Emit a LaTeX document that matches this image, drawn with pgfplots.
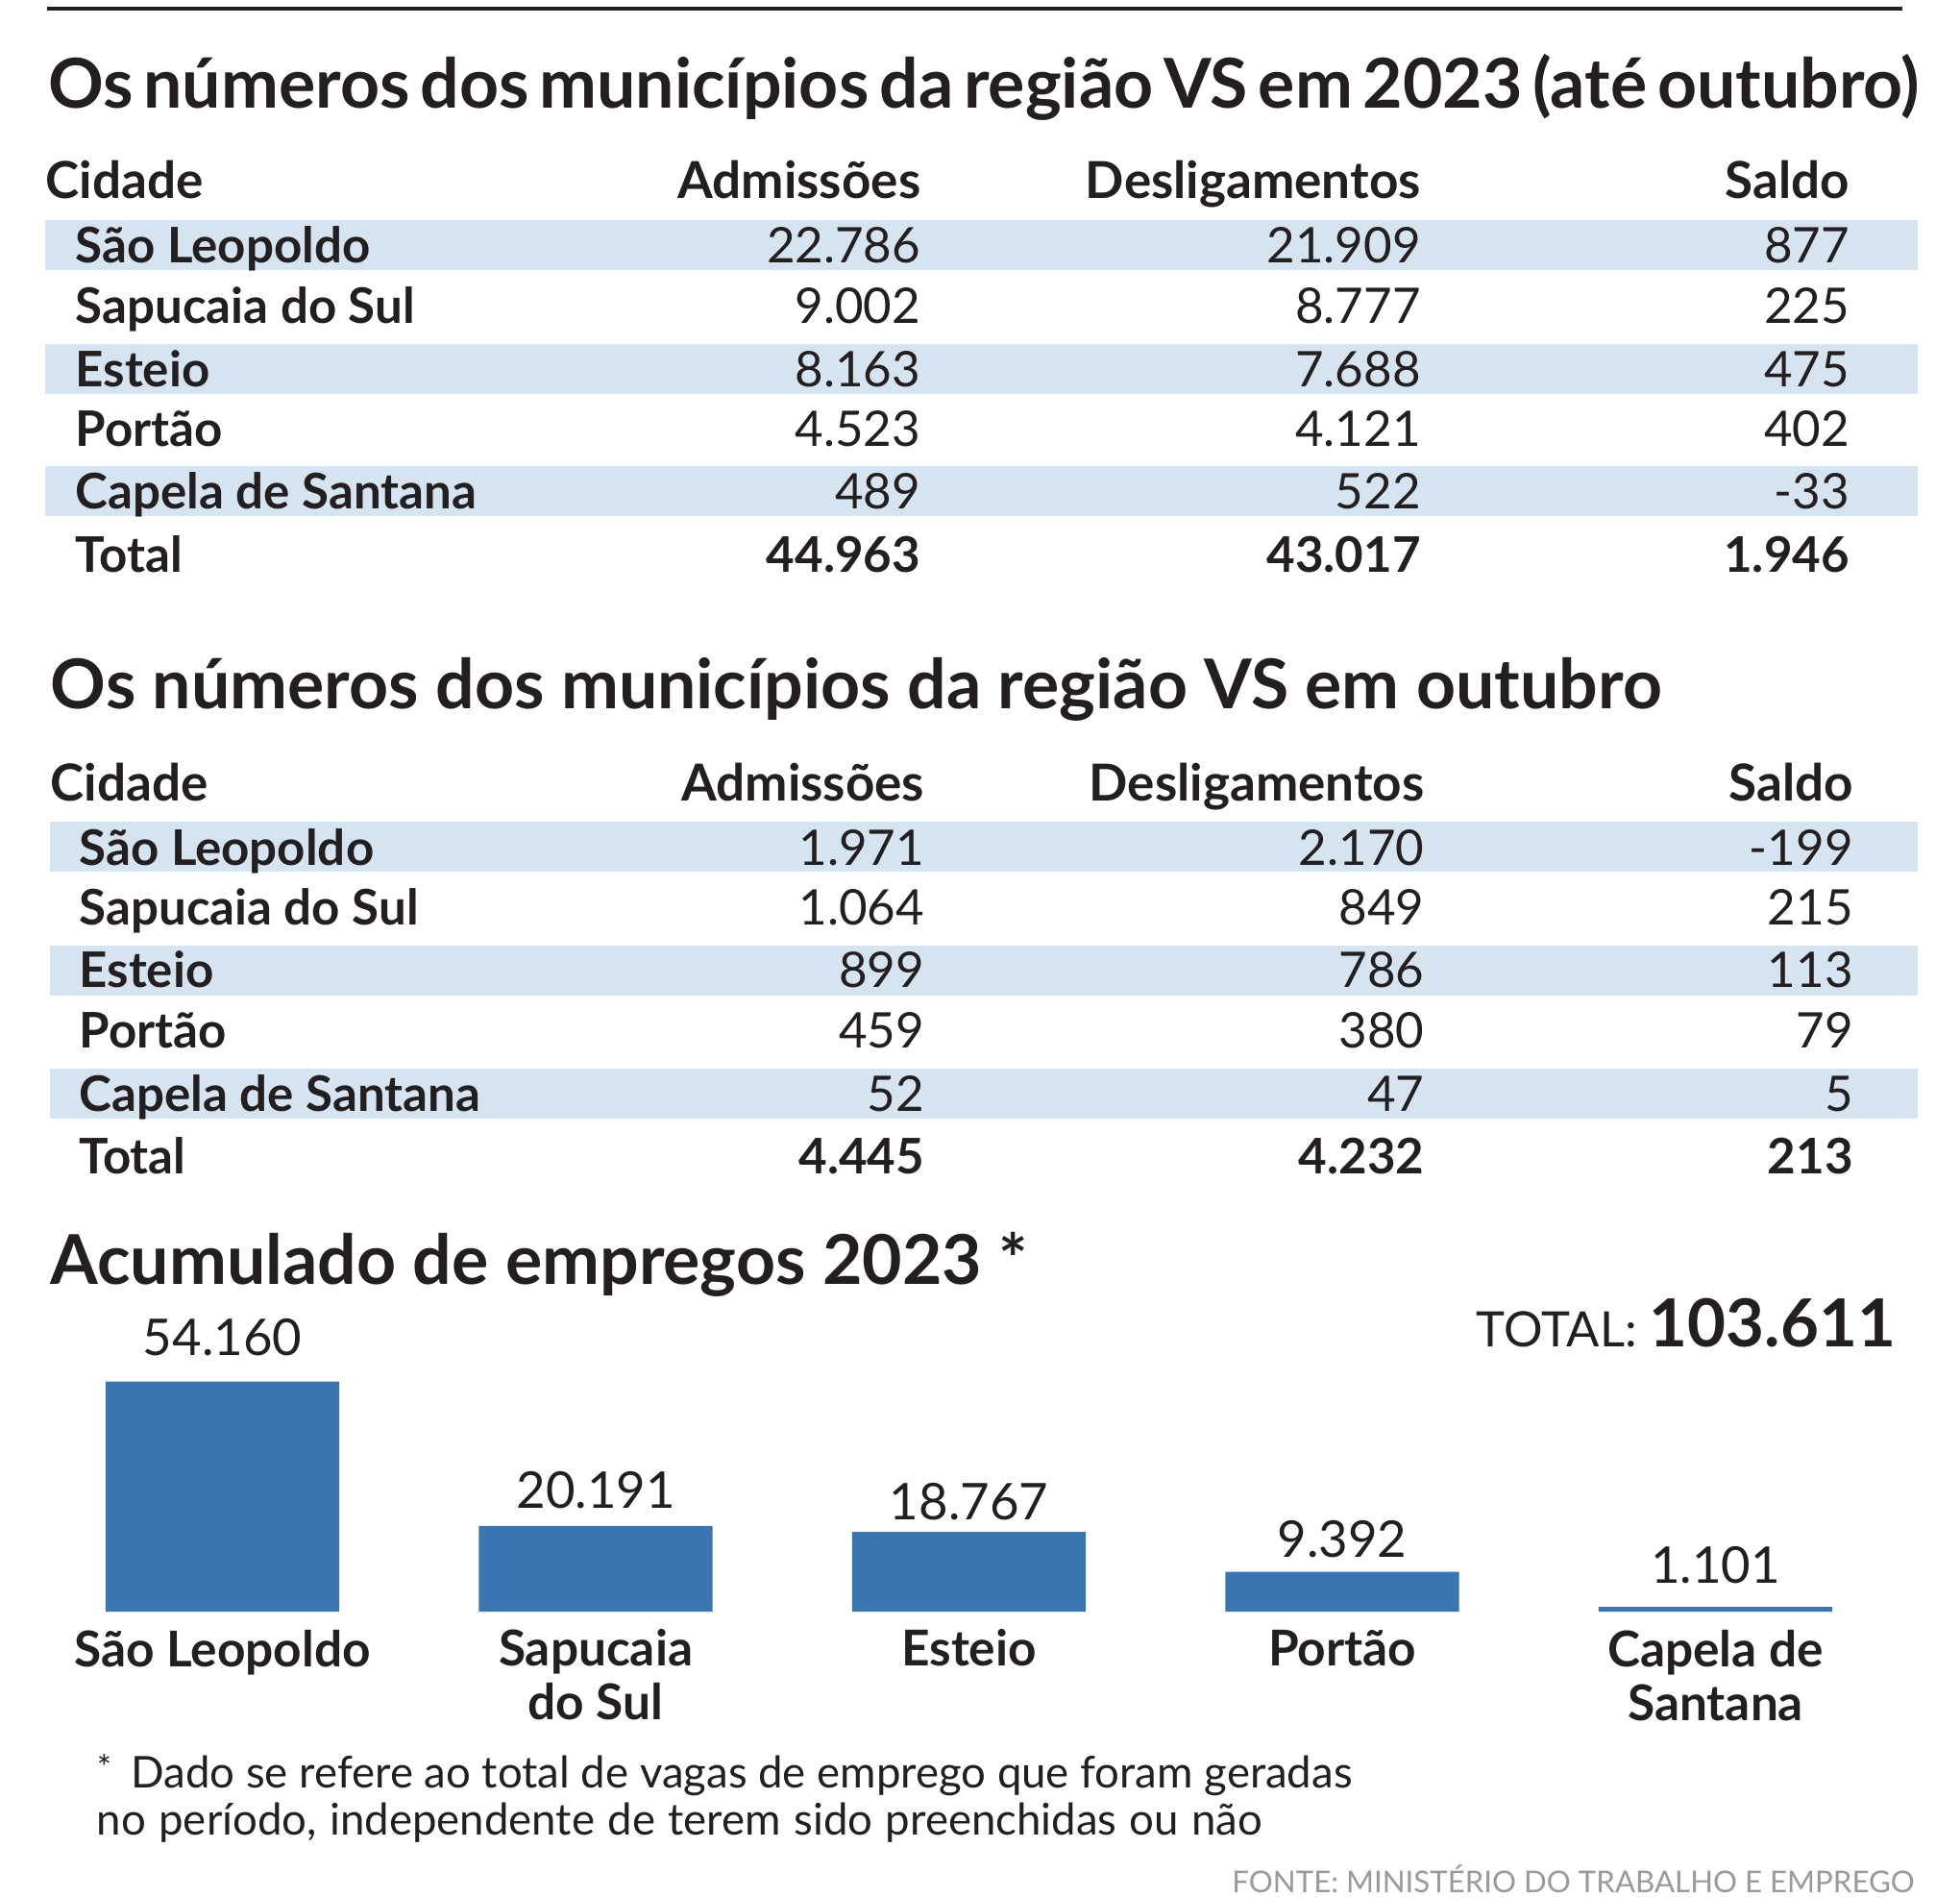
\documentclass[border=0pt]{standalone}
\usepackage{pgfplots}
\pgfplotsset{compat=1.18}
\usepackage{fontspec}
\setmainfont{Lato}
\definecolor{txt}{HTML}{231F20}
\definecolor{band}{HTML}{D6E3F0}
\definecolor{barc}{HTML}{3A75B0}
\definecolor{src}{HTML}{9A9A9A}
\newcommand{\fs}[1]{\fontsize{#1}{1.05\dimexpr#1\relax}\selectfont}
\newcommand{\tight}{\spaceskip=0.62\fontdimen2\font plus 0.1\fontdimen2\font\relax}
\newcommand{\loose}{\spaceskip=1.15\fontdimen2\font plus 0.1\fontdimen2\font\relax}
\begin{document}
\begin{tikzpicture}[x=0.4pt,y=-0.4pt,
  every node/.style={inner sep=0pt, text=txt},
  ttl/.style={font=\fs{22pt}\bfseries, anchor=base west},
  hl/.style={font=\fs{16.3pt}\bfseries, anchor=base west},
  hr/.style={font=\fs{16.3pt}\bfseries, anchor=base east},
  bl/.style={font=\fs{15.7pt}\bfseries, anchor=base west},
  br/.style={font=\fs{15.7pt}\bfseries, anchor=base east},
  nr/.style={font=\fs{15.7pt}, anchor=base east}]
\useasboundingbox (0,0) rectangle (1568,1517);
\fill[white] (0,0) rectangle (1568,1517);
\draw[txt, line width=1.2pt] (38,7) -- (1522,7);
% ---------- table 1
\node[ttl] at (38,86.5) {\tight Os números dos municípios da região VS em 2023 (até outubro)};
\foreach \t in {176,275,373}{\fill[band] (36,\t) rectangle (1534,\t+40);}
\node[hl] at (36,159) {Cidade};
\node[hr] at (737,159) {Admissões};
\node[hr] at (1137,159) {Desligamentos};
\node[hr] at (1480,159) {Saldo};
\foreach \y/\n/\a/\d/\s in {210/São Leopoldo/22.786/21.909/877,
  259/Sapucaia do Sul/9.002/8.777/225,
  309/Esteio/8.163/7.688/475,
  357/Portão/4.523/4.121/402,
  407/Capela de Santana/489/522/-33}{
  \node[bl] at (60,\y) {\n};
  \node[nr] at (737,\y) {\a};
  \node[nr] at (1137,\y) {\d};
  \node[nr] at (1480,\y) {\s};
}
\node[bl] at (60,458) {Total};
\node[br] at (737,458) {44.963};
\node[br] at (1137,458) {43.017};
\node[br] at (1480,458) {1.946};
% ---------- table 2
\node[ttl] at (40,567) {Os números dos municípios da região VS em outubro};
\foreach \t in {657,756,855}{\fill[band] (40,\t) rectangle (1534,\t+40);}
\node[hl] at (40,641) {Cidade};
\node[hr] at (740,641) {Admissões};
\node[hr] at (1140,641) {Desligamentos};
\node[hr] at (1483,641) {Saldo};
\foreach \y/\n/\a/\d/\s in {692/São Leopoldo/1.971/2.170/-199,
  740/Sapucaia do Sul/1.064/849/215,
  790/Esteio/899/786/113,
  838/Portão/459/380/79,
  889/Capela de Santana/52/47/5}{
  \node[bl] at (63,\y) {\n};
  \node[nr] at (740,\y) {\a};
  \node[nr] at (1140,\y) {\d};
  \node[nr] at (1483,\y) {\s};
}
\node[bl] at (63,939) {Total};
\node[br] at (740,939) {4.445};
\node[br] at (1140,939) {4.232};
\node[br] at (1483,939) {213};
% ---------- bar chart
\node[ttl] at (40,1027) {Acumulado de empregos 2023 *};
\node[anchor=base east] at (1517,1077) {\fs{15.6pt}TOTAL: \fs{21.2pt}\bfseries 103.611};
\coordinate (A) at (28.7,1289);
\begin{axis}[at={(A)}, anchor=south west, scale only axis,
  width=597.2pt, height=73.6pt,
  xmin=-0.5, xmax=4.5, ymin=0, ymax=54160, clip=false,
  axis line style={draw=none}, major tick length=0pt,
  xtick style={draw=none}, ytick=\empty, xtick={0,1,2,3,4},
  xticklabels={São Leopoldo,{Sapucaia\\do Sul},Esteio,Portão,{Capela de\\Santana}},
  xticklabel style={anchor=north, inner sep=0pt, align=center,
    font=\fontsize{15.8pt}{17.2pt}\selectfont\bfseries, yshift=-5.6pt, text=txt},
  ybar, bar width=74.8pt]
\addplot[fill=barc, draw=none, nodes near coords, point meta=explicit symbolic,
  visualization depends on={\thisrow{off}\as\myoff},
  every node near coord/.append style={anchor=base, yshift=\myoff*0.4pt,
    font=\fs{16.2pt}, text=txt, inner sep=0pt}]
  table[x=x, y=y, meta=lab] {
  x y lab off
  0 54160 54.160 20.5
  1 20191 20.191 14
  2 18767 18.767 10
  3 9392 9.392 11.5
  4 1101 1.101 19
};
\end{axis}
% ---------- footnote and source
\node[anchor=base west, font=\fs{14pt}] at (77,1430) {\raisebox{0.35ex}{\fs{11pt}*}\hspace{0.45em}Dado se refere ao total de vagas de emprego que foram geradas};
\node[anchor=base west, font=\fs{14pt}] at (77,1468) {\loose no período, independente de terem sido preenchidas ou não};
\node[anchor=base east, font=\fs{9.6pt}, text=src] at (1532,1514) {FONTE: MINISTÉRIO DO TRABALHO E EMPREGO};
\end{tikzpicture}
\end{document}
